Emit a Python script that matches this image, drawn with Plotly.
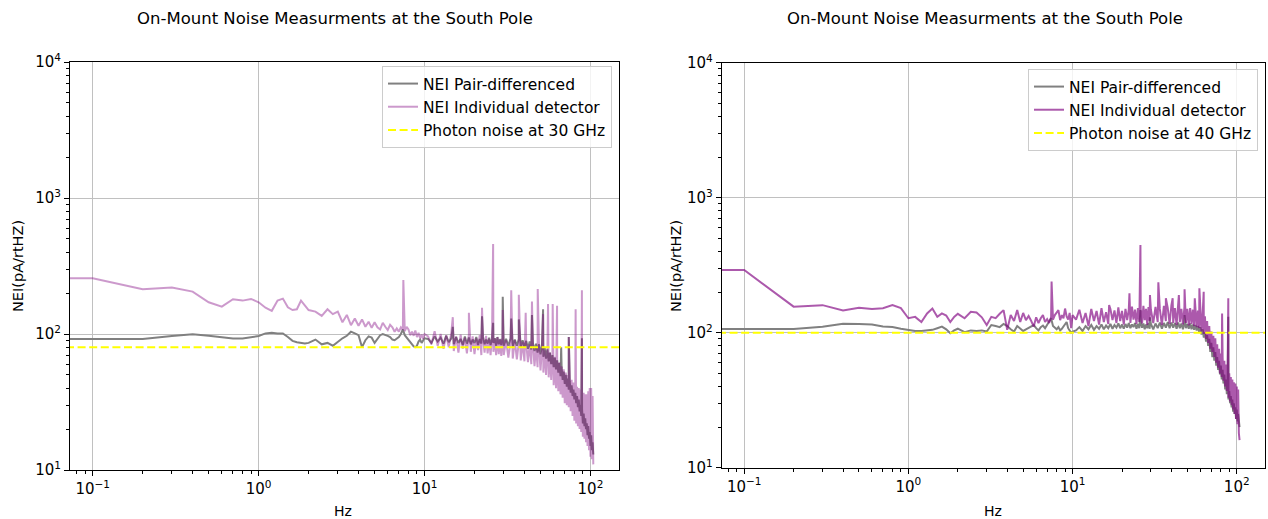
import numpy as np
import plotly.graph_objects as go

# ---------------- frequency grid (Hz) ----------------
f_dc = [0.05]
f_a = np.round(np.arange(0.1, 2.05, 0.1), 1)      # 0.1 .. 2.0
f_b = np.round(np.arange(2.2, 10.05, 0.2), 1)     # 2.2 .. 10.0
f_c = np.round(np.arange(10.5, 30.05, 0.5), 1)    # 10.5 .. 30
f_d = np.arange(31, 105).astype(float)            # 31 .. 104
freq = np.concatenate([f_dc, f_a, f_b, f_c, f_d])

# ---------------- 30 GHz (left panel) ----------------
ind30_a = [257, 257, 213, 220, 205, 171, 159, 180, 176, 181, 171, 156, 148, 176, 182, 157, 150, 152, 176, 163, 150]
ind30_b = [146, 136, 152, 140, 146, 122, 138, 116, 130, 115,
           128, 113, 123, 111, 122, 112, 108, 121, 113, 107,
           117, 112, 104, 110, 104, 112, 108, 105, 113, 108,
           98, 104, 97, 106, 95, 102, 93, 99, 92, 100]
ind30_c = [96, 84, 105, 82, 100, 78, 98, 80, 102, 75,
           96, 73, 99, 78, 94, 72, 100, 74, 96, 71,
           93, 76, 98, 70, 94, 73, 97, 72, 92, 70,
           96, 74, 93, 70, 95, 71, 92, 69, 94, 70]
ind30_d = [90, 67, 88, 66, 90, 65, 87, 64, 88, 63,
           85, 62, 84, 60, 82, 58, 81, 57, 79, 54,
           77, 52, 76, 50, 74, 48, 73, 46, 71, 42,
           68, 40, 65, 38, 62, 36, 58, 34, 55, 31,
           52, 30, 50, 29, 48, 27, 46, 25, 44, 23,
           42, 22, 41, 21, 40, 20, 39, 19, 38, 17.6,
           37, 17, 36, 16, 36, 15, 38, 14, 40, 12.5,
           40, 12, 35, 11]
ind30_spike_f = [7.45, 14.8, 18.5, 22.2, 25.9, 29.6, 33.3, 37.0, 40.7, 44.4, 48.1, 51.8, 55.5, 59.2, 62.9, 74.0, 81.4, 88.8]
ind30_spike_v = [249, 133, 143, 156, 458, 150, 210, 194, 143, 173, 214, 140, 166, 166, 161, 95, 152, 210]

pair30_a = [92, 92, 92, 96.7, 99.4, 97, 94.5, 92.5, 92.5, 94.5, 96.7, 101, 102, 101, 101, 95, 89, 87, 86.5, 85, 86]
pair30_b = [91, 84, 86, 82, 88, 93, 97, 104, 101, 98,
            80, 90, 96, 94, 86, 92, 98, 100, 99, 97,
            95, 91, 90, 93, 95, 100, 108, 98, 94, 90,
            86, 84, 81, 80, 82, 88, 91, 86, 90, 93]
pair30_c = [92, 86, 96, 88, 94, 85, 97, 87, 93, 84,
            95, 86, 92, 83, 96, 85, 94, 84, 91, 86,
            95, 83, 92, 85, 96, 84, 91, 85, 94, 83,
            92, 86, 93, 82, 95, 84, 91, 83, 94, 82]
pair30_d = [92, 82, 93, 81, 91, 82, 92, 80, 90, 80,
            89, 78, 88, 77, 86, 75, 85, 73, 84, 71,
            82, 68, 79, 66, 77, 63, 73, 60, 70, 57,
            67, 55, 64, 52, 61, 49, 57, 46, 53, 43,
            50, 41, 47, 39, 45, 37, 42, 35, 39, 33,
            37, 31, 35, 29, 33, 27, 30, 25, 28, 22,
            26, 21, 24, 20, 22, 18, 21, 17, 19, 15,
            18, 14, 16, 13]
pair30_spike_f = [14.8, 22.2, 25.9, 29.6, 33.3, 37.0, 44.4, 51.8, 66.6, 74.0, 88.8]
pair30_spike_v = [113, 135, 121, 188, 130, 128, 138, 152, 80, 95, 93]

photon30 = 80

# ---------------- 40 GHz (right panel) ----------------
ind40_a = [291, 291, 156, 160, 146, 153, 150, 152, 160, 152, 128, 131, 120, 139, 151, 131, 139, 134, 120, 131, 138]
ind40_b = [128, 143, 141, 130, 114, 131, 128, 138, 147, 105,
           135, 122, 147, 120, 140, 124, 133, 122, 111, 130,
           118, 128, 135, 120, 126, 118, 130, 125, 135, 142,
           147, 124, 135, 128, 151, 132, 125, 140, 108, 135]
ind40_c = [125, 148, 118, 140, 112, 150, 122, 145, 115, 152,
           120, 142, 116, 150, 124, 146, 118, 154, 122, 145,
           115, 150, 124, 148, 118, 156, 125, 148, 116, 152,
           120, 150, 117, 158, 124, 150, 114, 155, 122, 148]
ind40_d = [118, 155, 120, 150, 114, 158, 122, 152, 116, 160,
           118, 152, 114, 156, 120, 150, 115, 155, 118, 150,
           113, 152, 116, 148, 112, 150, 110, 146, 108, 142,
           102, 138, 98, 132, 90, 122, 84, 112, 76, 102,
           72, 95, 66, 88, 60, 82, 55, 76, 50, 70,
           47, 66, 44, 62, 40, 58, 37, 54, 33, 50,
           31, 47, 29, 45, 27, 43, 25, 42, 23, 40,
           21, 38, 18, 16]
ind40_spike_f = [7.45, 16.7, 22.2, 25.9, 29.6, 33.3, 37.0, 40.7, 44.4, 48.1, 55.5, 59.2, 62.9, 74.0, 81.4, 88.8]
ind40_spike_v = [239, 160, 196, 447, 190, 236, 180, 180, 190, 210, 180, 213, 201, 91, 139, 180]

pair40_a = [106.5, 106.5, 106.5, 110.8, 116.6, 116, 115, 111, 110, 107, 105, 103, 103, 103.5, 105, 108, 111, 106, 99, 104, 107]
pair40_b = [101, 104, 103, 104, 102, 114, 112, 110, 116, 112,
            106, 102, 112, 107, 103, 106, 109, 111, 114, 108,
            104, 110, 113, 108, 114, 120, 128, 112, 108, 106,
            110, 104, 107, 111, 116, 120, 108, 104, 100, 102]
pair40_c = [104, 110, 103, 112, 106, 114, 105, 112, 107, 115,
            106, 113, 108, 116, 107, 114, 109, 117, 108, 115,
            107, 116, 109, 118, 108, 115, 110, 118, 107, 116,
            108, 119, 109, 117, 106, 115, 108, 118, 107, 116]
pair40_d = [106, 117, 108, 119, 107, 118, 109, 120, 108, 119,
            109, 118, 107, 119, 108, 117, 106, 118, 108, 116,
            107, 117, 106, 115, 105, 114, 104, 112, 101, 110,
            97, 106, 92, 100, 86, 96, 80, 90, 72, 84,
            66, 78, 62, 72, 57, 66, 53, 62, 49, 57,
            45, 53, 42, 49, 38, 45, 35, 41, 32, 37,
            30, 34, 28, 32, 26, 30, 25, 28, 23, 27,
            22, 25, 21, 20]
pair40_spike_f = [25.9, 29.6, 48.1, 88.8]
pair40_spike_v = [147, 130, 135, 131]

photon40 = 100

x_tick_vals = [0.1, 1, 10, 100]
x_tick_text = ["10<sup>\u22121</sup>", "10<sup>0</sup>", "10<sup>1</sup>", "10<sup>2</sup>"]
y_tick_vals = [10, 100, 1000, 10000]
y_tick_text = ["10<sup>1</sup>", "10<sup>2</sup>", "10<sup>3</sup>", "10<sup>4</sup>"]
x_minor = [0.08, 0.09] + [m * 0.1 for m in range(2, 10)] + list(range(2, 10)) + [m * 10 for m in range(2, 10)]
y_minor = [m * 10 for m in range(2, 10)] + [m * 100 for m in range(2, 10)] + [m * 1000 for m in range(2, 10)]


def series(parts, spike_f, spike_v):
    vals = np.concatenate([np.asarray(p, dtype=float) for p in parts])
    assert len(vals) == len(freq), (len(vals), len(freq))
    fx = np.concatenate([freq, spike_f])
    vy = np.concatenate([vals, spike_v])
    order = np.argsort(fx, kind="stable")
    return fx[order], vy[order]


fp30, vp30 = series([pair30_a, pair30_b, pair30_c, pair30_d], pair30_spike_f, pair30_spike_v)
fi30, vi30 = series([ind30_a, ind30_b, ind30_c, ind30_d], ind30_spike_f, ind30_spike_v)
fp40, vp40 = series([pair40_a, pair40_b, pair40_c, pair40_d], pair40_spike_f, pair40_spike_v)
fi40, vi40 = series([ind40_a, ind40_b, ind40_c, ind40_d], ind40_spike_f, ind40_spike_v)

FONT = "DejaVu Sans"
fig = go.Figure()

panels = [
    ("x", "y", "legend", fp30, vp30, fi30, vi30, "rgba(128,0,128,0.4)", photon30, "Photon noise at 30 GHz"),
    ("x2", "y2", "legend2", fp40, vp40, fi40, vi40, "rgba(128,0,128,0.65)", photon40, "Photon noise at 40 GHz"),
]
for xa, ya, leg, fp, vp, fi, vi, icol, ph, phlabel in panels:
    fig.add_trace(go.Scatter(x=fp, y=vp, mode="lines", name="NEI Pair-differenced",
                             line=dict(color="rgb(128,128,128)", width=2),
                             xaxis=xa, yaxis=ya, legend=leg))
    fig.add_trace(go.Scatter(x=fi, y=vi, mode="lines", name="NEI Individual detector",
                             line=dict(color=icol, width=2),
                             xaxis=xa, yaxis=ya, legend=leg))
    fig.add_trace(go.Scatter(x=[0.05, 300], y=[ph, ph], mode="lines", name=phlabel,
                             line=dict(color="#ffff00", width=2, dash="8px,3.6px"),
                             xaxis=xa, yaxis=ya, legend=leg))


def xaxis(domain, anchor):
    return dict(domain=domain, anchor=anchor, type="log", range=[-1.137, 2.172],
                tickmode="array", tickvals=x_tick_vals, ticktext=x_tick_text,
                ticks="outside", ticklen=5, tickwidth=1, tickcolor="black",
                showline=True, linecolor="black", linewidth=1, mirror=True,
                showgrid=True, gridcolor="#c0c0c0", gridwidth=1, zeroline=False,
                tickfont=dict(family=FONT, size=15, color="black"),
                minor=dict(tickmode="array", tickvals=x_minor, ticks="outside", ticklen=3,
                           tickwidth=1, tickcolor="black", showgrid=False))


def yaxis(domain, anchor):
    return dict(domain=domain, anchor=anchor, type="log", range=[1, 4],
                tickmode="array", tickvals=y_tick_vals, ticktext=y_tick_text,
                ticks="outside", ticklen=5, tickwidth=1, tickcolor="black",
                showline=True, linecolor="black", linewidth=1, mirror=True,
                showgrid=True, gridcolor="#c0c0c0", gridwidth=1, zeroline=False,
                tickfont=dict(family=FONT, size=15, color="black"),
                minor=dict(tickmode="array", tickvals=y_minor, ticks="outside", ticklen=3,
                           tickwidth=1, tickcolor="black", showgrid=False))


W, H = 1268, 519
ML, MR, MT, MB = 70, 3, 62, 49
PW, PH = W - ML - MR, H - MT - MB


def px(xp):
    return (xp - ML) / PW


def py(yp):
    return (H - MB - yp) / PH


legend_common = dict(bgcolor="rgba(255,255,255,0.8)", bordercolor="#cccccc", borderwidth=1,
                     font=dict(family=FONT, size=15.5, color="black"),
                     xanchor="right", yanchor="top", tracegroupgap=0, itemwidth=30)

TITLE = "On-Mount Noise Measurments at the South Pole"
fig.update_layout(
    width=W, height=H,
    margin=dict(l=ML, r=MR, t=MT, b=MB),
    paper_bgcolor="white", plot_bgcolor="white",
    font=dict(family=FONT, color="black"),
    xaxis=xaxis([0, px(619)], "y"),
    yaxis=yaxis([0, 1], "x"),
    xaxis2=xaxis([px(721.7), 1.0], "y2"),
    yaxis2=yaxis([py(467.7), py(62.7)], "x2"),
    legend=dict(x=px(612), y=py(66), **legend_common),
    legend2=dict(x=px(1258), y=py(69), **legend_common),
    annotations=[
        dict(text=TITLE, x=px(335), y=py(19), xref="paper", yref="paper", showarrow=False,
             xanchor="center", yanchor="middle", font=dict(family=FONT, size=16.5, color="black")),
        dict(text=TITLE, x=px(985), y=py(19), xref="paper", yref="paper", showarrow=False,
             xanchor="center", yanchor="middle", font=dict(family=FONT, size=16.5, color="black")),
        dict(text="Hz", x=px(343), y=py(511), xref="paper", yref="paper", showarrow=False,
             xanchor="center", yanchor="middle", font=dict(family=FONT, size=14, color="black")),
        dict(text="Hz", x=px(993), y=py(511), xref="paper", yref="paper", showarrow=False,
             xanchor="center", yanchor="middle", font=dict(family=FONT, size=14, color="black")),
        dict(text="NEI(pA/rtHZ)", x=px(18), y=py(266), xref="paper", yref="paper", showarrow=False,
             textangle=-90, xanchor="center", yanchor="middle", font=dict(family=FONT, size=14.5, color="black")),
        dict(text="NEI(pA/rtHZ)", x=px(676), y=py(266), xref="paper", yref="paper", showarrow=False,
             textangle=-90, xanchor="center", yanchor="middle", font=dict(family=FONT, size=14.5, color="black")),
    ],
)

fig.write_html("out.html", config={"displayModeBar": False},
               post_script="document.body.style.margin='0px';document.body.style.overflow='hidden';")
